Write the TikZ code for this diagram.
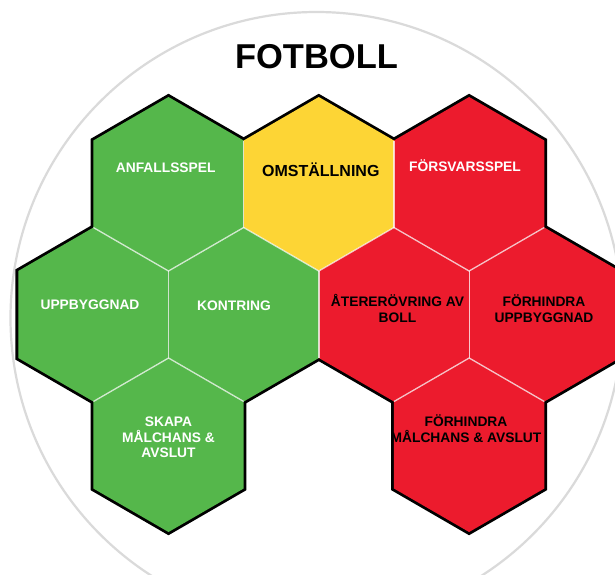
\documentclass[tikz,border=0pt]{standalone}
\usepackage{fontspec}
\setmainfont{Liberation Sans}
\definecolor{hgreen}{HTML}{55B74B}
\definecolor{hyellow}{HTML}{FDD535}
\definecolor{hred}{HTML}{EC1B2D}
\definecolor{ringgray}{HTML}{DADADA}
\tikzset{
  hex/.pic={
    \coordinate (-t)  at (0,-87);
    \coordinate (-tr) at (75.15,-43.5);
    \coordinate (-br) at (75.15,43.5);
    \coordinate (-b)  at (0,87);
    \coordinate (-bl) at (-75.15,43.5);
    \coordinate (-tl) at (-75.15,-43.5);
    \path[pic actions] (-t) -- (-tr) -- (-br) -- (-b) -- (-bl) -- (-tl) -- cycle;
  },
  outerline/.style={draw=black, line width=5.6pt, line join=miter},
  innerline/.style={draw=white, line width=1.3pt, opacity=0.75},
  label/.style={font=\fontsize{13.8}{15.6}\selectfont\bfseries, align=center, anchor=base, inner sep=0pt},
  wlabel/.style={label, text=white},
  blabel/.style={label, text=black},
  title/.style={font=\fontsize{34.5}{40}\selectfont\bfseries, anchor=base, inner sep=0pt},
}
\begin{document}
\begin{tikzpicture}[x=1pt, y=-1pt]
\useasboundingbox (0,0) rectangle (615,574);
\fill[white] (0,0) rectangle (615,574);
\clip (0,0) rectangle (615,574);
% ring
\draw[ringgray, line width=2.2pt] (316.5,318) circle[radius=306];
% black outline pass
\foreach \px/\py in {168.5/184, 318.8/184, 469.1/184,
                     93.4/314.5, 243.7/314.5, 394/314.5, 544.3/314.5,
                     168.5/445, 469.1/445}
  \pic[outerline] at (\px,\py) {hex};
% fills
\pic (A)  [fill=hgreen]  at (168.5,184)   {hex};
\pic (O)  [fill=hyellow] at (318.8,184)   {hex};
\pic (F)  [fill=hred]    at (469.1,184)   {hex};
\pic (U)  [fill=hgreen]  at (93.4,314.5)  {hex};
\pic (K)  [fill=hgreen]  at (243.7,314.5) {hex};
\pic (R)  [fill=hred]    at (394,314.5)   {hex};
\pic (FU) [fill=hred]    at (544.3,314.5) {hex};
\pic (S)  [fill=hgreen]  at (168.5,445)   {hex};
\pic (FM) [fill=hred]    at (469.1,445)   {hex};
% inner borders
\draw[innerline] (A-tr) -- (A-br);
\draw[innerline] (O-tr) -- (O-br);
\draw[innerline] (A-bl) -- (A-b) -- (A-br);
\draw[innerline] (O-bl) -- (O-b) -- (O-br);
\draw[innerline] (F-bl) -- (F-b) -- (F-br);
\draw[innerline] (U-tr) -- (U-br);
\draw[innerline] (K-tr) -- (K-br);
\draw[innerline] (R-tr) -- (R-br);
\draw[innerline] (U-b) -- (U-br);
\draw[innerline] (K-bl) -- (K-b);
\draw[innerline] (R-b) -- (R-br);
\draw[innerline] (FU-bl) -- (FU-b);
% labels
\node[title] (title) at (316.5,68.3) {FOTBOLL};
\node[wlabel] (lA)  at (165.7,172.6) {ANFALLSSPEL};
\node[blabel, font=\fontsize{16}{18}\selectfont\bfseries] (lO) at (320.8,176.2) {OMSTÄLLNING};
\node[wlabel] (lF)  at (465,171.8)   {FÖRSVARSSPEL};
\node[wlabel] (lU)  at (90,309)      {UPPBYGGNAD};
\node[wlabel] (lK)  at (234,310.6)   {KONTRING};
\node[blabel] (lR)  at (397.5,322.2) {ÅTERERÖVRING AV\\BOLL};
\node[blabel] (lFU) at (544,322.2)   {FÖRHINDRA\\UPPBYGGNAD};
\node[wlabel] (lS)  at (168.5,457.8) {SKAPA\\MÅLCHANS \&\\AVSLUT};
\node[blabel] (lFM) at (466,442.2)   {FÖRHINDRA\\MÅLCHANS \& AVSLUT};
\end{tikzpicture}
\end{document}
